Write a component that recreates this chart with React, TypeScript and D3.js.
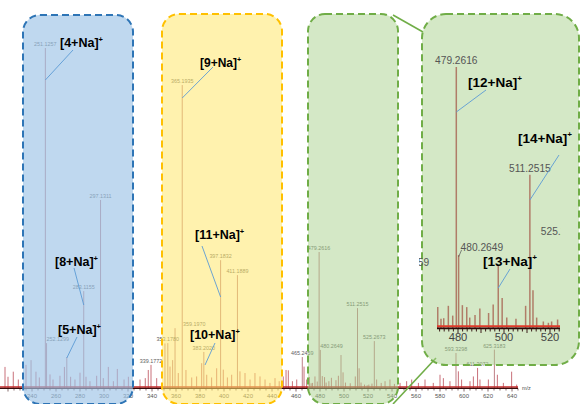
import React from "react";
import * as d3 from "d3";

// ---------- data ----------
const labeledMz = [251.1257, 252.1299, 283.1155, 297.1311, 339.1772, 353.178, 359.197, 365.1935, 383.202, 397.1832, 411.1889, 465.2459, 479.2616, 480.2649, 511.2515, 525.2673, 593.3298, 611.3072, 625.3183];
const labeledInt = [100, 13.2, 28.5, 55.3, 6.8, 13.2, 17.6, 89.1, 10.6, 37.6, 33.2, 9.1, 40, 11.2, 23.5, 13.8, 10.3, 5.9, 11.3];
const labeledText = ["251.1257", "252.1299", "283.1155", "297.1311", "339.1772", "353.1780", "359.1970", "365.1935", "383.2020", "397.1832", "411.1889", "465.2459", "479.2616", "480.2649", "511.2515", "525.2673", "593.3298", "611.3072", "625.3183"];

const minorMz = [217.5, 220, 224.4, 228.6, 235, 239.2, 243.3, 246.1, 255, 257.5, 263.3, 267, 269, 272.2, 275.8, 280, 285, 288.3, 293.9, 299.4, 303.6, 307.8, 311.1, 316.7, 320.3, 330, 334.4, 336.9, 343.9, 350.8, 355, 357.2, 361.9, 368.3, 373.1, 377.2, 381.4, 385.6, 389.7, 393.9, 399.4, 402.8, 406.4, 413.3, 417.5, 421.7, 425.8, 430, 434.2, 438.3, 442.5, 446, 449.4, 451.7, 453.6, 457, 460.6, 466.7, 468.9, 471.2, 472.6, 473.8, 475.8, 477.7, 481.9, 483.8, 485.1, 487.4, 489.5, 493.3, 495.3, 497.5, 499.2, 501.2, 505.2, 509.4, 512.6, 514.2, 517.1, 519.3, 520.7, 523.3, 527.2, 531, 534.2, 538.3, 542, 546.7, 552.2, 556.4, 562, 567.5, 574.4, 580, 582.8, 588.3, 595.3, 598, 605, 607.8, 613.3, 620.3, 627.8, 632.8, 639.7, 643.9];
const minorInt = [6.2, 3.3, 4.8, 2.5, 6.8, 8.2, 4.8, 3.1, 4.0, 2.5, 3.6, 6.2, 9.1, 3.3, 2.5, 4.5, 3.3, 2.0, 3.6, 2.9, 6.2, 2.0, 5.6, 2.5, 3.3, 2.5, 2.9, 5.3, 2.9, 13.1, 6.3, 8.2, 4.4, 5.3, 3.1, 3.4, 7.3, 3.9, 3.1, 5.8, 5.4, 3.1, 3.9, 4.9, 4.4, 2.5, 4.4, 3.4, 2.5, 1.5, 2.9, 2.0, 3.4, 5.3, 5.2, 2.0, 2.5, 6.3, 2.5, 3.2, 1.4, 1.5, 3.4, 1.9, 3.5, 3.2, 1.6, 2.0, 3.0, 2.3, 3.6, 9.7, 4.6, 1.6, 1.4, 3.4, 5.8, 1.6, 1.0, 0.8, 1.0, 1.3, 2.5, 1.5, 2.0, 2.5, 1.2, 1.5, 2.0, 2.5, 1.5, 2.5, 1.5, 3.9, 2.9, 2.0, 4.9, 2.5, 2.0, 3.4, 2.5, 2.5, 3.9, 1.5, 4.8, 1.0];

const mainTicks = [240, 260, 280, 300, 320, 340, 360, 380, 400, 420, 440, 460, 480, 500, 520, 540, 560, 580, 600, 620, 640];
const insetTicks = [480, 500, 520];
const insetLabelText = ["465.2459", "479.2616", "480.2649", "511.2515", "525.2673"];

const FONT = "'Liberation Sans', Arial, Helvetica, sans-serif";

function Ion({ x, y, base, size }: { x: number; y: number; base: string; size: number }) {
  return (
    <text x={x} y={y} fontFamily={FONT} fontWeight="bold" fontSize={size} fill="#000">
      {base}
      <tspan dy={-size * 0.42} fontSize={size * 0.6}>+</tspan>
    </text>
  );
}

export default function App() {
  const W = 581, H = 404;
  const x = d3.scaleLinear().domain([240, 640]).range([32, 512]);
  const y = d3.scaleLinear().domain([0, 100]).range([388, 48]);
  const xi = d3.scaleLinear().domain([480, 520]).range([458, 550]);
  const yi = d3.scaleLinear().domain([0, 40]).range([328, 67]);

  const peaks = [
    ...labeledMz.map((m, i) => ({ m, v: labeledInt[i] })),
    ...minorMz.map((m, i) => ({ m, v: minorInt[i] })),
  ];
  const labels = labeledMz.map((m, i) => ({ m, v: labeledInt[i], t: labeledText[i] }));
  const startAnchored = new Set(["252.1299", "359.1970", "480.2649"]);
  const insetLabels = labels.filter((l) => insetLabelText.includes(l.t));

  const minor5 = d3.range(220, 646, 5);
  const minorInset = d3.range(472, 526, 2);

  const stem = "#bf7f86";
  const insetStem = "#b07d68";
  const leader = "#5b9bd5";
  const green = "#70ad47";

  const byMz = (m: number) => peaks.find((p) => Math.abs(p.m - m) < 0.6)!;

  return (
    <svg width={W} height={H} style={{ position: "fixed", left: 0, top: 0, background: "#fff" }}>
      <defs>
        <clipPath id="insetClip">
          <rect x={419} y={0} width={142} height={332} />
        </clipPath>
      </defs>
      <rect x={0} y={0} width={W} height={H} fill="#fff" />

      {/* main spectrum */}
      <g>
        {peaks.map((p, i) => (
          <line key={i} x1={x(p.m)} x2={x(p.m)} y1={y(0)} y2={y(p.v)} stroke={p.v > 8 ? stem : "#c9707a"} strokeWidth={1} />
        ))}
        {labels.map((l, i) => {
          const sa = startAnchored.has(l.t);
          return (
            <text key={i} x={sa ? x(l.m) + (l.t === "359.1970" ? 8 : 0) : x(l.m)} y={y(l.v) - 1.8} fontFamily={FONT} fontSize={5.4} fill="#5e5e5e" textAnchor={sa ? "start" : "middle"}>
              {l.t}
            </text>
          );
        })}
        {/* baseline band */}
        <line x1={0} x2={518} y1={387} y2={387} stroke="#c62828" strokeWidth={1.3} />
        <line x1={0} x2={518} y1={388.4} y2={388.4} stroke="#3a0c0c" strokeWidth={1.4} />
        {minor5.map((t) => (
          <line key={t} x1={x(t)} x2={x(t)} y1={388.5} y2={t % 20 === 0 ? 391.5 : 390.5} stroke="#3a0c0c" strokeWidth={0.6} />
        ))}
        {mainTicks.map((t) => (
          <text key={t} x={x(t)} y={397.5} fontFamily={FONT} fontSize={6} fill="#555" textAnchor="middle">{t}</text>
        ))}
        <text x={522} y={390} fontFamily={FONT} fontSize={5.5} fill="#555">m/z</text>
      </g>

      {/* highlight boxes */}
      <rect x={23} y={15} width={110} height={389} rx={17} fill="#9dc3e6" fillOpacity={0.65} stroke="#2e75b6" strokeWidth={2} strokeDasharray="7 4" />
      <rect x={162} y={14} width={120} height={390} rx={17} fill="#ffe86b" fillOpacity={0.55} stroke="#ffc000" strokeWidth={2} strokeDasharray="7 4" />
      <rect x={308} y={14} width={90} height={390} rx={17} fill="#a9d18e" fillOpacity={0.5} stroke={green} strokeWidth={2} strokeDasharray="7 4" />

      {/* main annotations */}
      <g stroke={leader} strokeWidth={0.9}>
        <line x1={x(251.1257)} y1={80} x2={73} y2={50} />
        <line x1={74} y1={268} x2={x(283.1155)} y2={305} />
        <line x1={77} y1={337} x2={x(269)} y2={358} />
        <line x1={x(365.1935)} y1={98} x2={213} y2={67} />
        <line x1={202} y1={246} x2={x(397.1832)} y2={297} />
        <line x1={215} y1={343} x2={205} y2={365} />
      </g>
      <Ion x={60} y={47} base="[4+Na]" size={12.5} />
      <Ion x={55} y={266} base="[8+Na]" size={12.5} />
      <Ion x={58} y={334} base="[5+Na]" size={12.5} />
      <Ion x={200} y={67} base="[9+Na]" size={12} />
      <Ion x={195} y={239} base="[11+Na]" size={12.5} />
      <Ion x={190} y={339} base="[10+Na]" size={12.5} />

      {/* connectors */}
      <line x1={393} y1={15} x2={423} y2={32} stroke={green} strokeWidth={1.6} />
      <line x1={393} y1={404} x2={436} y2={358} stroke={green} strokeWidth={1.6} />

      {/* inset */}
      <rect x={422} y={14} width={157} height={351} rx={24} fill="#a9d18e" fillOpacity={0.5} stroke={green} strokeWidth={2} strokeDasharray="7 4" />
      <g clipPath="url(#insetClip)">
        {peaks.filter((p) => p.m > 469 && p.m < 527).map((p, i) => (
          <line key={i} x1={xi(p.m)} x2={xi(p.m)} y1={yi(0)} y2={yi(p.v)} stroke={insetStem} strokeWidth={1.5} />
        ))}
        {insetLabels.map((l, i) => {
          const anchor = l.t === "465.2459" ? "end" : l.t === "480.2649" ? "start" : "middle";
          const lx = l.t === "465.2459" ? xi(l.m) + 5 : l.t === "480.2649" ? xi(l.m) + 2 : xi(l.m);
          const ly = l.t === "480.2649" ? yi(l.v) - 4 : yi(l.v) - 3;
          return (
            <text key={i} x={lx} y={ly} fontFamily={FONT} fontSize={10.2} fill="#555" textAnchor={anchor}>{l.t}</text>
          );
        })}
        <line x1={xi(480.2649)} y1={yi(11.2) + 2} x2={xi(480.2649) + 3} y2={yi(11.2) - 5} stroke="#555" strokeWidth={0.7} />
      </g>
      <line x1={437} x2={560} y1={326.2} y2={326.2} stroke="#e03a2a" strokeWidth={2} />
      <line x1={437} x2={560} y1={328.3} y2={328.3} stroke="#2a0808" strokeWidth={1.8} />
      {minorInset.map((t) => (
        <line key={t} x1={xi(t)} x2={xi(t)} y1={328} y2={t % 10 === 0 ? 333 : 331.5} stroke="#2a0808" strokeWidth={0.9} />
      ))}
      {insetTicks.map((t) => (
        <text key={t} x={xi(t)} y={340.8} fontFamily={FONT} fontSize={11.2} fill="#444" textAnchor="middle">{t}</text>
      ))}

      {/* inset annotations */}
      <g stroke={leader} strokeWidth={0.9}>
        <line x1={xi(479.2616)} y1={112} x2={486} y2={90} />
        <line x1={xi(511.2515)} y1={200} x2={559} y2={155} />
        <line x1={xi(byMz(497.5).m)} y1={288} x2={510} y2={269} />
      </g>
      <Ion x={468} y={87} base="[12+Na]" size={13.5} />
      <Ion x={518} y={143} base="[14+Na]" size={13.5} />
      <Ion x={483} y={266} base="[13+Na]" size={13.5} />
    </svg>
  );
}
